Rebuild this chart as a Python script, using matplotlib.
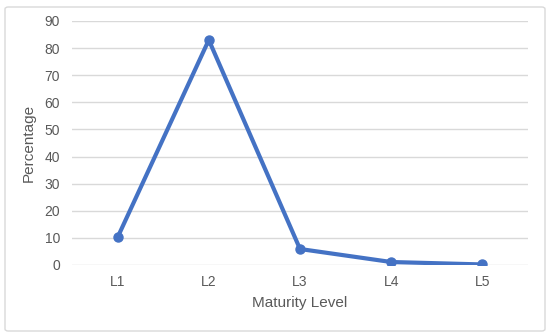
import matplotlib.pyplot as plt
from matplotlib.patches import FancyBboxPatch

levels = ["L1", "L2", "L3", "L4", "L5"]
percentages = [10.2, 83.0, 5.9, 1.1, 0.2]

plt.rcParams['font.family'] = ['Liberation Sans', 'DejaVu Sans']
text_color = '#595959'

fig = plt.figure(figsize=(5.5, 3.36), dpi=100)
ax = fig.add_axes([72 / 550, (336 - 265) / 336, 456 / 550, 244 / 336])

x = list(range(1, len(levels) + 1))
ax.plot(x, percentages, color='#4472C4', linewidth=3, marker='o', markersize=6.5,
        solid_capstyle='round', zorder=3)

ax.set_xlim(0.5, 5.5)
ax.set_ylim(0, 90)
ax.set_yticks(range(0, 91, 10))
ax.set_xticks(x)
ax.set_xticklabels(levels)
ax.grid(axis='y', color='#d9d9d9', linewidth=1)
ax.set_axisbelow(True)
for s in ax.spines.values():
    s.set_visible(False)
ax.tick_params(length=0, colors=text_color, labelsize=10)
ax.tick_params(axis='y', pad=8.5)
ax.tick_params(axis='x', pad=7)
ax.set_xlabel("Maturity Level", color=text_color, fontsize=11, labelpad=5)
ax.set_ylabel("Percentage", color=text_color, fontsize=11, labelpad=6)

border = FancyBboxPatch((5 / 550, 5 / 336), 540 / 550, 324 / 336,
                        boxstyle="round,pad=0,rounding_size=0.006",
                        transform=fig.transFigure, facecolor='none',
                        edgecolor='#d9d9d9', linewidth=1)
fig.patches.append(border)

fig.savefig("out.png", dpi=100)
